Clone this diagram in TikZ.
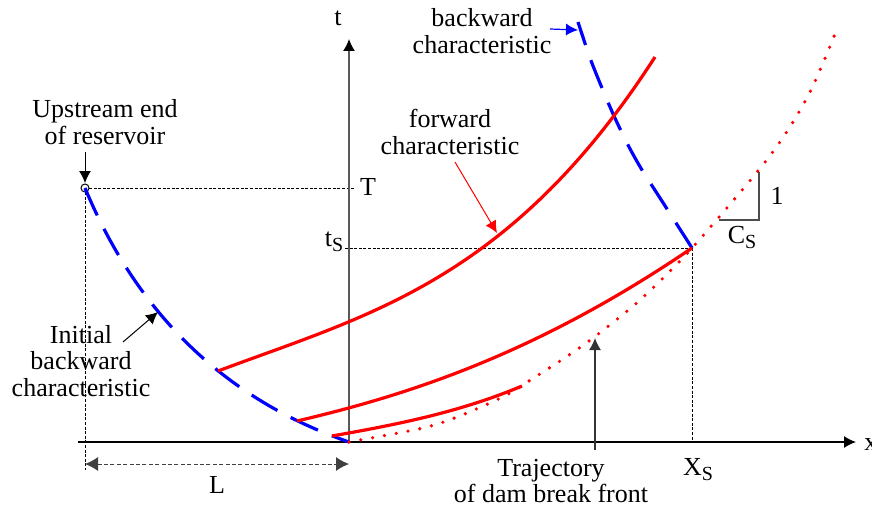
\documentclass[tikz,border=0pt]{standalone}
\usepackage{fontspec}
\setmainfont{Liberation Serif}
\usetikzlibrary{arrows.meta}
\newcommand{\subS}{\raisebox{-2.8pt}{\fontsize{10}{10}\selectfont S}}
\begin{document}
\begin{tikzpicture}[x=0.5pt,y=-0.5pt,
  lbl/.style={inner sep=0pt, font=\rmfamily\fontsize{13}{13.3}\selectfont},
  mlbl/.style={lbl, align=center},
  redline/.style={red, line width=1.6pt},
  bluedash/.style={blue, line width=1.6pt, dash pattern=on 15pt off 7.5pt},
  reddot/.style={red, line width=1.8pt, line cap=round, dash pattern=on 0pt off 6pt},
  guide/.style={black, line width=0.4pt, dash pattern=on 1.5pt off 0.8pt},
  arr/.style={-{Latex[length=6pt,width=6pt]}},
]
\useasboundingbox (0,0) rectangle (872,508);

% key coordinates
\coordinate (O) at (349,442);
\coordinate (xend) at (856,442);
\coordinate (xstart) at (78,442);
\coordinate (tend) at (349,39);
\coordinate (up) at (85,188);
\coordinate (S) at (692,248);
\coordinate (A1) at (218,371);
\coordinate (A2) at (297,421);
\coordinate (A3) at (332,436);

% guide lines
\draw[guide] (89,188) -- (355,188);
\draw[guide] (85,192) -- (85,470);
\draw[guide] (345,248) -- (S);
\draw[guide] (S) -- (692,442);
\draw[black!75, line width=0.5pt, dash pattern=on 2pt off 1.2pt,
  {Latex[length=6.5pt,width=7pt]}-{Latex[length=6.5pt,width=7pt]}] (85,464) -- (349,464);

% axes
\draw[line width=0.7pt, arr] (xstart) -- (xend);
\draw[black!65, line width=0.7pt, -{Latex[length=6pt,width=6pt,color=black]}] (O) -- (tend);

% slope triangle
\draw[black!70, line width=0.6pt] (719,220) -- (759,220) -- (759,172);

% upstream circle
\draw[line width=0.5pt] (up) circle (4);

% initial backward characteristic
\draw[bluedash] (up) .. controls (137.7,314.7) and (226,399.7) .. (O);

% backward characteristic
\draw[blue, line width=1.6pt, dash pattern=on 15pt off 8pt] plot[smooth] coordinates {(S) (660,198) (642,170) (628,145) (614,116) (602,88) (590,58) (578,22)};

% forward characteristics
\draw[redline] (A1) .. controls (366,315.5) and (510,281.8) .. (655,57);
\draw[redline] (A2) .. controls (417,393) and (542,350) .. (S);
\draw[redline] (A3) .. controls (396,424.7) and (459,412.5) .. (522,386);

% dam break front trajectory
\draw[reddot] plot[smooth] coordinates {(O) (423,428) (457,417) (490,403) (512,392) (532,379) (563,359) (593,338) (640,300) (S) (769,157) (808,96) (837,29)};

% labels
\node[mlbl] (ups) at (105,122) {Upstream end\\of reservoir};
\draw[arr, line width=0.5pt] (85,152) -- (85,183);

\node[mlbl] (bwd) at (482,31) {backward\\characteristic};
\draw[blue, line width=0.6pt, arr] (550,29) -- (578,30);

\node[mlbl] (fwd) at (450,132) {forward\\characteristic};
\draw[red, line width=0.5pt, arr] (455,162) -- (497,233);

\node[mlbl] (ini) at (81,361) {Initial\\backward\\characteristic};
\draw[arr, line width=0.5pt] (123,342) -- (158,312);

\node[mlbl] (traj) at (551,481) {Trajectory\\of dam break front};
\draw[arr, black!80, line width=0.6pt] (595,450) -- (595,338);

\node[lbl, anchor=base] (tl) at (338,26) {t};
\node[lbl, anchor=base] (Tl) at (368,195) {T};
\node[lbl, anchor=base] (tsl) at (334,246) {t\subS};
\node[lbl, anchor=base] (xsl) at (698,475) {X\subS};
\node[lbl, anchor=base] (csl) at (742,243) {C\subS};
\node[lbl, anchor=base] (one) at (777,204) {1};
\node[lbl, anchor=base] (Ll) at (217,493) {L};
\node[lbl, anchor=base west] (xl) at (864,450) {x};
\end{tikzpicture}
\end{document}
